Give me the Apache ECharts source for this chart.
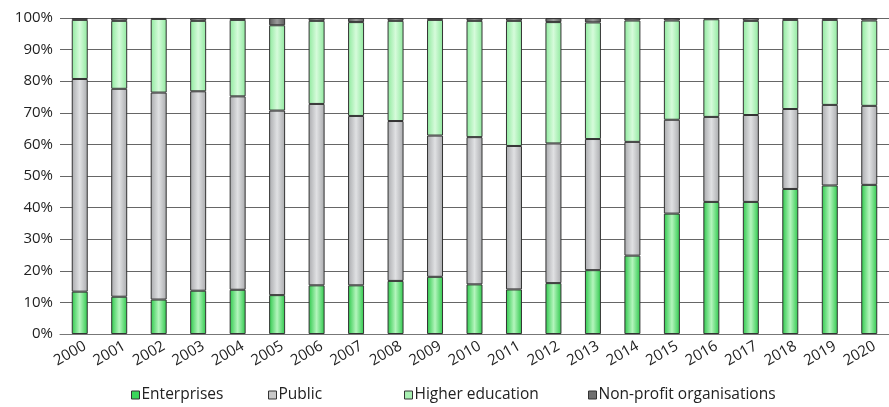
<!DOCTYPE html>
<html><head><meta charset="utf-8">
<script src="https://cdn.jsdelivr.net/npm/echarts@6/dist/echarts.min.js"></script>
<style>html,body{margin:0;padding:0;background:#fff}#c{width:889px;height:407px}</style>
</head><body><div id="c"></div>
<script>
const years = ['2000','2001','2002','2003','2004','2005','2006','2007','2008','2009','2010','2011','2012','2013','2014','2015','2016','2017','2018','2019','2020'];
const enterprises = [13.4,11.8,10.9,13.7,14.0,12.3,15.4,15.4,16.8,18.1,15.7,14.1,16.1,20.2,24.8,38.1,41.8,41.8,45.9,47.0,47.2];
const publicSector = [67.3,65.8,65.5,63.1,61.2,58.4,57.4,53.6,50.6,44.7,46.6,45.4,44.2,41.5,36.0,29.7,26.9,27.5,25.3,25.5,25.0];
const higherEducation = [18.7,21.5,23.3,22.3,24.2,27.0,26.3,29.7,31.7,36.6,36.8,39.6,38.4,36.9,38.4,31.4,30.9,29.8,28.2,26.9,27.0];
const nonProfit = [0.6,0.9,0.3,0.9,0.6,2.3,0.9,1.3,0.9,0.6,0.9,0.9,1.3,1.4,0.8,0.8,0.4,0.9,0.6,0.6,0.8];
const seriesNames = ['Enterprises','Public','Higher education','Non-profit organisations'];

function grad(edge, mid){
  return new echarts.graphic.LinearGradient(0,0,1,0,[
    {offset:0,color:edge},{offset:0.5,color:mid},{offset:1,color:edge}]);
}
const FONT = 'Open Sans';
function mk(name, data, edge, mid){
  return {name, type:'bar', stack:'a', data, barWidth:16,
    itemStyle:{color:grad(edge,mid), borderColor:'#333', borderWidth:1},
    emphasis:{disabled:true}};
}
const legendColors = ['#3ad75a','#c8c8c8','#a8f0b2','#707070'];
const legendLeft = [129, 266, 402, 586];
const legends = seriesNames.map((n,i)=>({
  top:385, left:legendLeft[i], icon:'rect', itemWidth:8, itemHeight:8, itemGap:0, padding:[2,2,2,2],
  textStyle:{fontFamily:FONT, fontSize:15.5, color:'#222', padding:[0,0,0,-3]},
  data:[{name:n, itemStyle:{color:legendColors[i], borderColor:'#333', borderWidth:1}}]
}));
const chart = echarts.init(document.getElementById('c'));
chart.setOption({
  animation:false,
  textStyle:{fontFamily:FONT},
  grid:{left:60, top:18, width:836, height:316, containLabel:false},
  legend:legends,
  xAxis:{type:'category', data:years,
    axisLine:{lineStyle:{color:'#777'}}, axisTick:{show:false},
    axisLabel:{rotate:30, fontFamily:FONT, fontSize:15, color:'#222', margin:14, interval:0, padding:[0,-6,0,0]}},
  yAxis:{type:'value', min:0, max:100, interval:10,
    axisLine:{show:false}, axisTick:{show:false},
    splitLine:{lineStyle:{color:'#666', width:1}},
    axisLabel:{formatter:'{value}%', fontFamily:FONT, fontSize:15, color:'#222', margin:7}},
  series:[
    mk(seriesNames[0], enterprises, '#2cc84a', '#b4f5bd'),
    mk(seriesNames[1], publicSector, '#a9aaad', '#e0e1e3'),
    mk(seriesNames[2], higherEducation, '#8ee99d', '#d6fbdb'),
    mk(seriesNames[3], nonProfit, '#5a5a5a', '#9a9a9a')
  ]
});
</script></body></html>
